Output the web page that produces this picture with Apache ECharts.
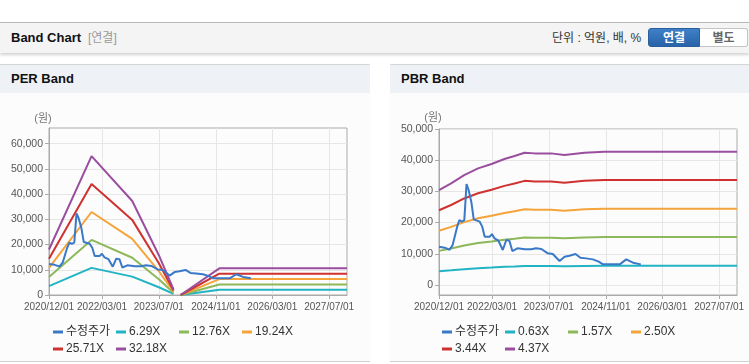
<!DOCTYPE html>
<html>
<head>
<meta charset="utf-8">
<script src="https://cdn.jsdelivr.net/npm/echarts@6/dist/echarts.min.js"></script>
<style>
  body{margin:0;width:749px;height:364px;overflow:hidden;background:#fff;position:relative;
    font-family:"Liberation Sans","Noto Sans CJK KR",sans-serif;color:#222}
  .top{position:absolute;left:0;top:22px;width:749px;height:30px;background:#f4f4f4;
    border-top:1px solid #b9b9b9;box-shadow:0 2px 3px rgba(0,0,0,.18)}
  .top .ttl{position:absolute;left:11px;top:0;line-height:30px;font-size:13px;font-weight:bold;color:#111}
  .top .sub{position:absolute;left:88px;top:0;line-height:30px;font-size:12px;color:#999}
  .top .unit{position:absolute;left:552px;top:0;line-height:30px;font-size:12px;color:#333}
  .btn{position:absolute;top:5px;height:19px;line-height:19px;font-size:12px;font-weight:bold;text-align:center;box-sizing:border-box}
  .btn.on{left:648px;width:52px;color:#fff;background:linear-gradient(#3f80c8,#2863a8);border:1px solid #2a5f9e;border-radius:3px 0 0 3px}
  .btn.off{left:700px;width:48px;color:#666;background:#fff;border:1px solid #c4c4c4;border-left:0;border-radius:0 3px 3px 0}
  .panel{position:absolute;top:64px;height:298px;background:#fcfcfc;border-top:1px solid #d6d6d6;border-bottom:1px solid #cfcfcf;box-sizing:border-box}
  .panel .hd{height:28px;line-height:28px;background:#eef2f7;padding-left:11px;font-size:13px;font-weight:bold;color:#111}
  #chart{position:absolute;left:0;top:0;width:749px;height:364px}
</style>
</head>
<body>
<div class="top">
  <span class="ttl">Band Chart</span><span class="sub">[연결]</span>
  <span class="unit">단위 : 억원, 배, %</span>
  <div class="btn on">연결</div><div class="btn off">별도</div>
</div>
<div class="panel" style="left:0;width:370px"><div class="hd">PER Band</div></div>
<div class="panel" style="left:390px;width:359px"><div class="hd">PBR Band</div></div>
<div id="chart"></div>
<script>
// x axis tick labels (shared)
const xTicks = ['2020/12/01', '2022/03/01', '2023/07/01', '2024/11/01', '2026/03/01', '2027/07/01']
const perYTicks = [0, 10000, 20000, 30000, 40000, 50000, 60000]
const pbrYTicks = [0, 10000, 20000, 30000, 40000, 50000]

// 수정주가 (same line in both charts)
const priceDates = ['2020-12-01', '2021-01-18', '2021-03-01', '2021-03-28', '2021-05-06', '2021-05-25', '2021-06-15',
  '2021-07-06', '2021-07-25', '2021-08-12', '2021-09-04', '2021-09-25', '2021-11-15', '2021-12-07', '2021-12-28',
  '2022-02-10', '2022-02-28', '2022-03-22', '2022-04-25', '2022-06-01', '2022-07-01', '2022-07-28', '2022-08-22',
  '2022-10-04', '2022-12-07', '2023-02-01', '2023-03-13', '2023-04-28', '2023-06-22', '2023-08-04', '2023-10-01',
  '2023-11-13', '2023-12-25', '2024-02-15', '2024-03-28', '2024-05-15', '2024-07-13', '2024-09-01', '2024-10-07',
  '2024-12-04', '2025-02-28', '2025-04-25', '2025-06-22', '2025-08-28']
const priceValues = [12280, 11960, 11300, 12800, 18700, 20800, 20300,
  20800, 32360, 30440, 26700, 21040, 20300, 18700, 15490,
  15490, 16340, 14950, 14200, 11210, 14420, 14200, 10890,
  11750, 11430, 11430, 11750, 11530, 10150, 9930, 7690,
  9080, 9400, 9930, 8760, 8540, 8220, 7480, 6620,
  6620, 6620, 8220, 7160, 6620]

// PER band
const perNames = ['6.29X', '12.76X', '19.24X', '25.71X', '32.18X']
const perDates = ['2020-12-01', '2021-12-01', '2022-11-15', '2023-07-01', '2023-11-04', '2023-12-01', '2024-01-04', '2024-12-01', '2027-12-01']
const per629 = [3522, 10756, 7284, 3082, 440, '-', 0, 2063, 2063]
const per1276 = [7146, 21820, 14776, 6252, 893, '-', 0, 4185, 4185]
const per1924 = [10774, 32900, 22280, 9428, 1347, '-', 0, 6311, 6311]
const per2571 = [14398, 43964, 29772, 12598, 1800, '-', 0, 8433, 8433]
const per3218 = [18021, 55028, 37264, 15768, 2253, '-', 0, 10555, 10555]

// PBR band
const pbrNames = ['0.63X', '1.57X', '2.50X', '3.44X', '4.37X']
const pbrDates = ['2020-12-01', '2021-03-15', '2021-07-05', '2021-11-01', '2022-02-25', '2022-06-15', '2022-09-10',
  '2022-12-05', '2023-03-01', '2023-07-20', '2023-11-12', '2024-05-01', '2024-10-20', '2027-12-01']
const pbr063 = [4389, 4695, 5080, 5389, 5589, 5820, 5959, 6113, 6082, 6082, 6005, 6113, 6159, 6159]
const pbr157 = [10937, 11701, 12660, 13430, 13929, 14504, 14849, 15234, 15157, 15157, 14964, 15234, 15348, 15348]
const pbr250 = [17415, 18633, 20160, 21385, 22180, 23095, 23645, 24258, 24135, 24135, 23828, 24258, 24440, 24440]
const pbr344 = [23963, 25638, 27740, 29426, 30520, 31779, 32536, 33378, 33210, 33210, 32787, 33378, 33629, 33629]
const pbr437 = [30441, 32570, 35240, 37381, 38771, 40370, 41331, 42402, 42188, 42188, 41650, 42402, 42721, 42721]

const colors = ['#3a78c8', '#22b3c4', '#8db859', '#f4a43a', '#cf3130', '#9a4e9e']
const font = '"Liberation Sans","Noto Sans CJK KR",sans-serif'

function ts (s) {
  let p = s.split(/[\/-]/).map(Number)
  return new Date(p[0], p[1] - 1, p[2]).getTime()
}
function pad (n) { return n < 10 ? '0' + n : '' + n }
function fmtDate (v) {
  let d = new Date(v)
  return d.getFullYear() + '/' + pad(d.getMonth() + 1) + '/' + pad(d.getDate())
}
function pairs (dates, vals) {
  return dates.map((d, i) => [ts(d), vals[i]])
}

let xTickTs = xTicks.map(ts)

function xAxis (gridIndex) {
  // dates as timestamps on a value axis, ticks placed at the labelled dates
  return {
    type: 'value',
    gridIndex: gridIndex,
    min: ts('2020-12-01'),
    max: ts('2027-12-01'),
    axisLine: { onZero: false, lineStyle: { color: '#aaa' } },
    axisTick: { show: true, length: 4, customValues: xTickTs, lineStyle: { color: '#aaa' } },
    axisLabel: {
      customValues: xTickTs, formatter: fmtDate, color: '#555', fontSize: 10, fontFamily: font,
      margin: 7, hideOverlap: false, showMinLabel: true, showMaxLabel: true
    },
    splitLine: { show: true, lineStyle: { color: '#e6e6e6' } }
  }
}
function yAxis (gridIndex, min, max, ticks) {
  return {
    type: 'value',
    gridIndex: gridIndex,
    min: min,
    max: max,
    name: '(원)',
    nameLocation: 'end',
    nameGap: 4,
    nameTextStyle: { color: '#777', fontSize: 11, fontFamily: font, align: 'center', padding: [0, 12, 0, 0] },
    axisLine: { show: true, lineStyle: { color: '#aaa' } },
    axisTick: { show: true, length: 4, customValues: ticks, lineStyle: { color: '#aaa' } },
    axisLabel: {
      customValues: ticks, color: '#555', fontSize: 10.5, fontFamily: font, margin: 6,
      formatter: v => v.toLocaleString('en-US')
    },
    splitLine: { show: true, lineStyle: { color: '#e6e6e6' } }
  }
}
function line (name, color, data, idx, z) {
  return {
    name: name, type: 'line', xAxisIndex: idx, yAxisIndex: idx,
    data: data, symbol: 'none', z: z || 2, color: color,
    lineStyle: { width: 2, color: color }
  }
}
function legend (left, names) {
  return {
    left: left, top: 326, width: 262, padding: 0,
    itemWidth: 10, itemHeight: 3, itemGap: 5, icon: 'rect',
    data: names,
    textStyle: { color: '#333', fontSize: 12, fontFamily: font, width: 45, lineHeight: 8, padding: [0, 0, 0, -2] }
  }
}

let myChart = echarts.init(document.getElementById('chart'))
let option = {
  animation: false,
  backgroundColor: 'transparent',
  grid: [
    { left: 49, top: 128, width: 298, height: 167, show: true, borderColor: '#aaa', borderWidth: 1, backgroundColor: 'transparent' },
    { left: 439, top: 129, width: 298, height: 166, show: true, borderColor: '#aaa', borderWidth: 1, backgroundColor: 'transparent' }
  ],
  xAxis: [xAxis(0), xAxis(1)],
  yAxis: [yAxis(0, 0, 66200, perYTicks), yAxis(1, -3200, 50000, pbrYTicks)],
  legend: [legend(53, ['수정주가'].concat(perNames)), legend(442, ['수정주가'].concat(pbrNames))],
  series: [
    line('6.29X', colors[1], pairs(perDates, per629), 0),
    line('12.76X', colors[2], pairs(perDates, per1276), 0),
    line('19.24X', colors[3], pairs(perDates, per1924), 0),
    line('25.71X', colors[4], pairs(perDates, per2571), 0),
    line('32.18X', colors[5], pairs(perDates, per3218), 0),
    line('수정주가', colors[0], pairs(priceDates, priceValues), 0, 3),
    line('0.63X', colors[1], pairs(pbrDates, pbr063), 1),
    line('1.57X', colors[2], pairs(pbrDates, pbr157), 1),
    line('2.50X', colors[3], pairs(pbrDates, pbr250), 1),
    line('3.44X', colors[4], pairs(pbrDates, pbr344), 1),
    line('4.37X', colors[5], pairs(pbrDates, pbr437), 1),
    line('수정주가', colors[0], pairs(priceDates, priceValues), 1, 3)
  ]
}
myChart.setOption(option)
</script>
</body>
</html>
